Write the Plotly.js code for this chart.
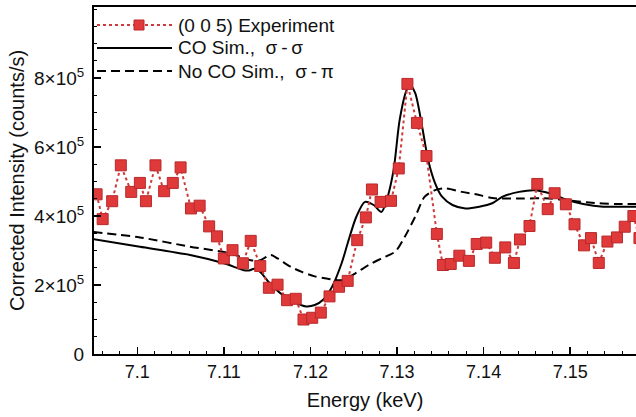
<!DOCTYPE html>
<html>
<head>
<meta charset="utf-8">
<script src="https://cdn.plot.ly/plotly-3.0.1.min.js"></script>
<style>html,body{margin:0;padding:0;background:#fff;}#chart{width:636px;height:417px;}</style>
</head>
<body>
<div id="chart"></div>
<script>
// Experiment (0 0 5)
var expX = [7.0953,7.0960,7.0971,7.0981,7.0993,7.1003,7.1010,7.1021,7.1031,7.1041,7.1050,7.1062,7.1072,7.1083,7.1092,7.1100,7.1110,7.1122,7.1131,7.1142,7.1152,7.1162,7.1173,7.1183,7.1192,7.1202,7.1212,7.1222,7.1233,7.1243,7.1254,7.1264,7.1271,7.1281,7.1293,7.1302,7.1312,7.1323,7.1334,7.1346,7.1353,7.1362,7.1372,7.1383,7.1392,7.1403,7.1413,7.1425,7.1435,7.1442,7.1453,7.1462,7.1474,7.1482,7.1495,7.1505,7.1516,7.1524,7.1533,7.1543,7.1554,7.1563,7.1573,7.1580];
var expY = [4.63e5,3.91e5,4.43e5,5.47e5,4.70e5,4.96e5,4.43e5,5.47e5,4.72e5,4.96e5,5.41e5,4.22e5,4.30e5,3.70e5,3.41e5,2.77e5,3.01e5,2.63e5,3.28e5,2.55e5,1.92e5,2.01e5,1.56e5,1.60e5,1.00e5,1.05e5,1.20e5,1.67e5,1.95e5,2.12e5,3.30e5,3.96e5,4.77e5,4.41e5,4.44e5,5.38e5,7.83e5,6.70e5,5.74e5,3.48e5,2.58e5,2.61e5,2.85e5,2.70e5,3.19e5,3.23e5,2.79e5,3.09e5,2.64e5,3.32e5,3.71e5,4.93e5,4.20e5,4.66e5,4.34e5,3.76e5,3.15e5,3.36e5,2.64e5,3.26e5,3.38e5,3.69e5,4.00e5,3.36e5];

// CO simulation, sigma-sigma
var coX = [7.0949,7.1003,7.1061,7.1100,7.1123,7.1129,7.1135,7.1142,7.1153,7.1168,7.1176,7.1185,7.1195,7.1205,7.1215,7.1225,7.1236,7.1243,7.1253,7.1263,7.1273,7.1282,7.1288,7.1296,7.1303,7.1311,7.1315,7.1321,7.1329,7.1336,7.1344,7.1352,7.1364,7.1379,7.1395,7.1410,7.1422,7.1441,7.1459,7.1476,7.1495,7.1515,7.1538,7.1561,7.1580];
var coY = [3.33e5,3.11e5,2.87e5,2.63e5,2.43e5,2.42e5,2.47e5,2.38e5,2.05e5,1.71e5,1.61e5,1.46e5,1.38e5,1.42e5,1.58e5,1.95e5,2.63e5,3.21e5,3.98e5,4.41e5,4.32e5,4.12e5,4.46e5,5.33e5,6.78e5,7.65e5,7.80e5,7.56e5,6.59e5,5.62e5,4.95e5,4.56e5,4.32e5,4.22e5,4.27e5,4.37e5,4.56e5,4.70e5,4.75e5,4.66e5,4.48e5,4.35e5,4.27e5,4.27e5,4.27e5];

// No CO simulation, sigma-pi
var noX = [7.0949,7.1003,7.1061,7.1107,7.1131,7.1142,7.1154,7.1162,7.1177,7.1190,7.1205,7.1220,7.1236,7.1252,7.1267,7.1282,7.1298,7.1309,7.1321,7.1332,7.1344,7.1356,7.1375,7.1395,7.1410,7.1422,7.1445,7.1476,7.1495,7.1522,7.1553,7.1580];
var noY = [3.54e5,3.38e5,3.11e5,2.92e5,2.72e5,2.72e5,2.87e5,2.77e5,2.53e5,2.38e5,2.25e5,2.18e5,2.14e5,2.34e5,2.58e5,2.77e5,2.97e5,3.40e5,3.98e5,4.56e5,4.75e5,4.80e5,4.70e5,4.61e5,4.52e5,4.51e5,4.51e5,4.51e5,4.46e5,4.39e5,4.35e5,4.35e5];

var xTickVals = [7.10,7.11,7.12,7.13,7.14,7.15];
var xTickText = ['7.1','7.11','7.12','7.13','7.14','7.15'];
var yTickVals = [0,2e5,4e5,6e5,8e5];
var yTickText = ['0','2\u00d710<sup>5</sup>','4\u00d710<sup>5</sup>','6\u00d710<sup>5</sup>','8\u00d710<sup>5</sup>'];
var legendLabels = ['(0 0 5) Experiment','CO Sim.,  \u03c3\u2009-\u2009\u03c3','No CO Sim.,  \u03c3\u2009-\u2009\u03c0'];

var FONT = 'Liberation Sans, Arial, Helvetica, sans-serif';
var RED = '#e0393a', RED_EDGE = '#b8292b', RED_LINE = '#cf3b3b';

var traces = [
  {x: noX, y: noY, type: 'scatter', mode: 'lines', line: {color: '#000', width: 2, dash: '9px,5px', shape: 'spline', smoothing: 0.8}, showlegend: false, hoverinfo: 'skip'},
  {x: coX, y: coY, type: 'scatter', mode: 'lines', line: {color: '#000', width: 2, shape: 'spline', smoothing: 0.8}, showlegend: false, hoverinfo: 'skip'},
  {x: expX, y: expY, type: 'scatter', mode: 'lines+markers', line: {color: RED_LINE, width: 2, dash: 'dot'},
   marker: {symbol: 'square', size: 11, color: RED, line: {color: RED_EDGE, width: 1}}, showlegend: false}
];

// custom legend (paper coordinates; plot area 94..636 x 7..354 px)
function px(x){ return (x - 94) / 542; }
function py(y){ return (354 - y) / 347; }
var rows = [25, 48, 71];
var shapes = [
  {type:'line', xref:'paper', yref:'paper', x0:px(97), x1:px(172), y0:py(rows[0]), y1:py(rows[0]), line:{color:RED_LINE, width:2, dash:'dot'}},
  {type:'rect', xref:'paper', yref:'paper', x0:px(134), x1:px(144), y0:py(rows[0]-5), y1:py(rows[0]+5), fillcolor:RED, line:{color:RED_EDGE, width:1}},
  {type:'line', xref:'paper', yref:'paper', x0:px(97), x1:px(172), y0:py(rows[1]), y1:py(rows[1]), line:{color:'#000', width:2}},
  {type:'line', xref:'paper', yref:'paper', x0:px(97), x1:px(172), y0:py(rows[2]), y1:py(rows[2]), line:{color:'#000', width:2, dash:'9px,5px'}}
];
var annotations = legendLabels.map(function(t, i){
  return {text: t, xref:'paper', yref:'paper', x: px(176), y: py(rows[i]), xanchor:'left', yanchor:'middle', showarrow:false, font:{family:FONT, size:19, color:'#111'}};
});

var layout = {
  width: 636, height: 417,
  margin: {l: 94, r: 0, t: 7, b: 63, pad: 0},
  paper_bgcolor: '#fff', plot_bgcolor: '#fff',
  font: {family: FONT, color: '#111'},
  showlegend: false,
  xaxis: {
    range: [7.095, 7.1576], tickmode: 'array', tickvals: xTickVals, ticktext: xTickText,
    ticks: 'inside', ticklen: 7, tickwidth: 1.5, tickcolor: '#000',
    minor: {tickmode: 'linear', tick0: 7.1, dtick: 0.002, ticks: 'inside', ticklen: 3, tickwidth: 1, tickcolor: '#000', showgrid: false},
    showline: true, linewidth: 2, linecolor: '#000', mirror: true,
    showgrid: false, zeroline: false,
    tickfont: {family: FONT, size: 18, color: '#111'},
    title: {text: 'Energy (keV)', font: {family: FONT, size: 20, color: '#111'}, standoff: 12}
  },
  yaxis: {
    range: [0, 1.006e6], tickmode: 'array', tickvals: yTickVals, ticktext: yTickText,
    ticks: 'inside', ticklen: 7, tickwidth: 1.5, tickcolor: '#000',
    minor: {tickmode: 'linear', tick0: 0, dtick: 5e4, ticks: 'inside', ticklen: 3, tickwidth: 1, tickcolor: '#000', showgrid: false},
    showline: true, linewidth: 2, linecolor: '#000', mirror: false,
    showgrid: false, zeroline: false,
    ticklabelstandoff: 4,
    tickfont: {family: FONT, size: 19, color: '#111'},
    title: {text: 'Corrected Intensity (counts/s)', font: {family: FONT, size: 20, color: '#111'}, standoff: 4}
  },
  shapes: shapes,
  annotations: annotations
};

Plotly.newPlot('chart', traces, layout, {staticPlot: true, displayModeBar: false});
</script>
</body>
</html>
